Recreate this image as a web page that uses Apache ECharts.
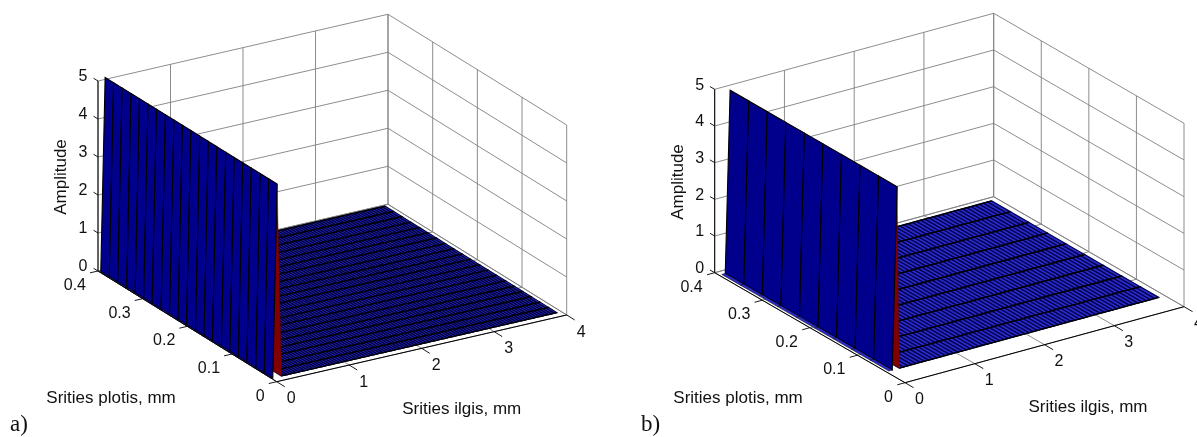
<!DOCTYPE html>
<html><head><meta charset="utf-8">
<style>html,body{margin:0;padding:0;background:#fff}#c{width:1197px;height:437px}</style>
<script src="https://cdn.jsdelivr.net/npm/echarts@6/dist/echarts.min.js"></script>
</head><body><div id="c"></div>
<script>
// ---- tick values and labels
const xTicks = [0, 1, 2, 3, 4];
const yTicks = [0, 0.1, 0.2, 0.3, 0.4];
const zTicks = [0, 1, 2, 3, 4, 5];
const xTitle = 'Srities ilgis, mm';
const yTitle = 'Srities plotis, mm';
const zTitle = 'Amplitude';

// ---- surface a): mesh nodes
const wallXA = [0, 0.02, 0.08];          // foot strip, foot of wall, crest
const wallZA = [0, 0, 5.08];
const floorXA = [0.14,0.18,0.22,0.26,0.30,0.34,0.38,0.42,0.46,0.50,0.54,0.58,0.62,0.66,0.70,0.74,0.78,0.82,0.86,0.90,0.94,0.98,1.02,1.06,1.10,1.14,1.18,1.22,1.26,1.30,1.34,1.38,1.42,1.46,1.50,1.54,1.58,1.62,1.66,1.70,1.74,1.78,1.82,1.86,1.90,1.94,1.98,2.02,2.06,2.10,2.14,2.18,2.22,2.26,2.30,2.34,2.38,2.42,2.46,2.50,2.54,2.58,2.62,2.66,2.70,2.74,2.78,2.82,2.86,2.90,2.94,2.98,3.02,3.06,3.10,3.14,3.18,3.22,3.26,3.30,3.34,3.38,3.42,3.46,3.50,3.54,3.58,3.62,3.66,3.70,3.74,3.78,3.82,3.86,3.90,3.94];
const meshYA = [0.012,0.031,0.05,0.07,0.089,0.108,0.127,0.147,0.166,0.185,0.205,0.224,0.243,0.262,0.282,0.301,0.32,0.339,0.359,0.378,0.397];

// ---- surface b)
const wallXB = [0.04, 0.09, 0.16];
const wallZB = [0, 0, 4.96];
const floorXB = [0.19,0.25,0.31,0.37,0.43,0.49,0.55,0.61,0.67,0.73,0.79,0.85,0.91,0.97,1.03,1.09,1.15,1.21,1.27,1.33,1.39,1.45,1.51,1.57,1.63,1.69,1.75,1.81,1.87,1.93,1.99,2.05,2.11,2.17,2.23,2.29,2.35,2.41,2.47,2.53,2.59,2.65,2.71,2.77,2.83,2.89,2.95,3.01,3.07,3.13,3.19,3.25,3.31,3.37,3.43,3.49,3.55,3.61,3.67,3.73,3.79,3.85,3.91];
const meshYB = [0.04,0.079,0.118,0.157,0.196,0.235,0.274,0.313,0.352,0.391];
const floorLevel = 0;

// ---- layout and style (projection of each 3D box onto the page axes)
const panelA = { O:[276.7,381.7], ex:[72.5,-16.68], ey:[-446.75,-276.75], ez:[0,-38],
  wallX:wallXA, wallZ:wallZA, floorX:floorXA, meshY:meshYA,
  rowW:1.1, colW:1.1, floorFill:'#2222c4', colStroke:'#00002c',
  letter:'a)', letterAt:[10,425], zAt:[61.7,177], yAt:[111,398], xAt:[461.7,409] };
const panelB = { O:[905,382.7], ex:[69.75,-19], ey:[-475.75,-275], ez:[0,-36.68],
  wallX:wallXB, wallZ:wallZB, floorX:floorXB, meshY:meshYB,
  rowW:1.4, colW:1.2, floorFill:'#2a2ac8', colStroke:'#00004c',
  letter:'b)', letterAt:[641,425], zAt:[678.3,182], yAt:[738,398], xAt:[1088,407] };
const XMAX = 4, YMAX = 0.4, ZMAX = 5;
const wallFill = '#00008c', hotFill = '#800000', gridC = '#808080', inkC = '#111';
const tickFont = '16px "Liberation Sans", Arial, sans-serif';
const titleFont = '17px "Liberation Sans", Arial, sans-serif';
const letterFont = '23px "Liberation Serif", "Times New Roman", serif';

function primsFor(P) {
  const L = [];
  const line = (pts, stroke, w) => L.push({ k:'line', pts, stroke, w });
  const quad = (pts, fill, stroke, w) => L.push({ k:'quad', pts, fill, stroke, w });
  const text = (t, o) => L.push(Object.assign({ k:'text', t }, o));
  // back planes and ground grid
  zTicks.forEach(z => {
    line([[0,YMAX,z],[XMAX,YMAX,z]], gridC, 0.9);
    line([[XMAX,YMAX,z],[XMAX,0,z]], gridC, 0.9);
  });
  xTicks.forEach(x => {
    line([[x,YMAX,0],[x,YMAX,ZMAX]], gridC, 0.9);
    line([[x,0,0],[x,YMAX,0]], gridC, 0.9);
  });
  yTicks.forEach(y => {
    line([[XMAX,y,0],[XMAX,y,ZMAX]], gridC, 0.9);
    line([[0,y,0],[XMAX,y,0]], gridC, 0.9);
  });
  // floor, far columns first
  const xs = P.wallX.concat(P.floorX);
  const zs = xs.map((_, i) => i < P.wallZ.length ? P.wallZ[i] : floorLevel);
  const ys = P.meshY, nW = P.wallX.length;
  const cell = (i, j) => [[xs[i],ys[j],zs[i]],[xs[i+1],ys[j],zs[i+1]],[xs[i+1],ys[j+1],zs[i+1]],[xs[i],ys[j+1],zs[i]]];
  for (let i = xs.length - 2; i >= nW; i--) for (let j = ys.length - 2; j >= 0; j--)
    quad(cell(i, j), P.floorFill, P.colStroke, P.colW);
  for (let j = ys.length - 1; j >= 0; j--)
    line([[xs[nW],ys[j],floorLevel],[xs[xs.length-1],ys[j],floorLevel]], '#000', P.rowW);
  // falling side behind the crest (dark red), wall, foot strip
  for (let j = ys.length - 2; j >= 0; j--) quad(cell(nW-1, j), hotFill, '#500000', 0.3);
  for (let j = ys.length - 2; j >= 0; j--) quad(cell(1, j), wallFill, '#000', 1.1);
  for (let j = ys.length - 2; j >= 0; j--) quad(cell(0, j), P.floorFill, '#000', 0.5);
  // axis lines and ticks
  line([[0,YMAX,0],[0,YMAX,ZMAX]], '#000', 1);
  line([[0,0,0],[0,YMAX,0]], '#000', 1);
  line([[0,0,0],[XMAX,0,0]], '#000', 1);
  zTicks.forEach(z => { line([[0,YMAX,z],[0,YMAX+0.01,z]], '#000', 0.9);
    text(String(z), { at:[0,YMAX,z], off:[-15,-4], align:'center', font:tickFont }); });
  yTicks.forEach(y => { line([[0,y,0],[-0.11,y,0]], '#000', 0.9);
    text(String(y), { at:[0,y,0], off:[-12,14.5], align:'right', font:tickFont }); });
  xTicks.forEach(x => { line([[x,0,0],[x,-0.018,0]], '#000', 0.9);
    text(String(x), { at:[x,0,0], off:[14.5,17.2], align:'center', font:tickFont }); });
  // titles
  text(zTitle, { px:P.zAt, align:'center', font:titleFont, rot:Math.PI/2 });
  text(yTitle, { px:P.yAt, align:'center', font:titleFont });
  text(xTitle, { px:P.xAt, align:'center', font:titleFont });
  text(P.letter, { px:P.letterAt, align:'left', font:letterFont });
  return L;
}

function seriesFor(P) {
  const prims = primsFor(P);
  const proj = (p, api) => api.coord([
    P.O[0] + p[0]*P.ex[0] + p[1]*P.ey[0] + p[2]*P.ez[0],
    P.O[1] + p[0]*P.ex[1] + p[1]*P.ey[1] + p[2]*P.ez[1]]);
  return {
    type:'custom', coordinateSystem:'cartesian2d', silent:true, clip:false,
    animation:false, progressive:0,
    data: prims.map((_, i) => [i]),
    encode:{ x:0, y:0 },
    renderItem(params, api) {
      const q = prims[api.value(0)];
      if (q.k === 'line') return { type:'polyline', shape:{ points:q.pts.map(p => proj(p, api)) },
        style:{ stroke:q.stroke, lineWidth:q.w, fill:null } };
      if (q.k === 'quad') return { type:'polygon', shape:{ points:q.pts.map(p => proj(p, api)) },
        style:{ fill:q.fill, stroke:q.stroke, lineWidth:q.w } };
      let c;
      if (q.at) { c = proj(q.at, api); c = [c[0]+q.off[0], c[1]+q.off[1]]; }
      else c = api.coord(q.px);
      return { type:'text', x:c[0], y:c[1], rotation:q.rot || 0,
        style:{ text:q.t, x:0, y:0, fill:inkC, font:q.font, align:q.align, verticalAlign:'middle' } };
    }
  };
}

const chart = echarts.init(document.getElementById('c'), null, { renderer:'canvas' });
chart.setOption({
  animation:false, backgroundColor:'#fff', tooltip:{ show:false },
  grid:{ left:0, right:0, top:0, bottom:0 },
  xAxis:{ type:'value', min:0, max:1197, show:false },
  yAxis:{ type:'value', min:0, max:437, inverse:true, show:false },
  series:[ seriesFor(panelA), seriesFor(panelB) ]
});
</script></body></html>
